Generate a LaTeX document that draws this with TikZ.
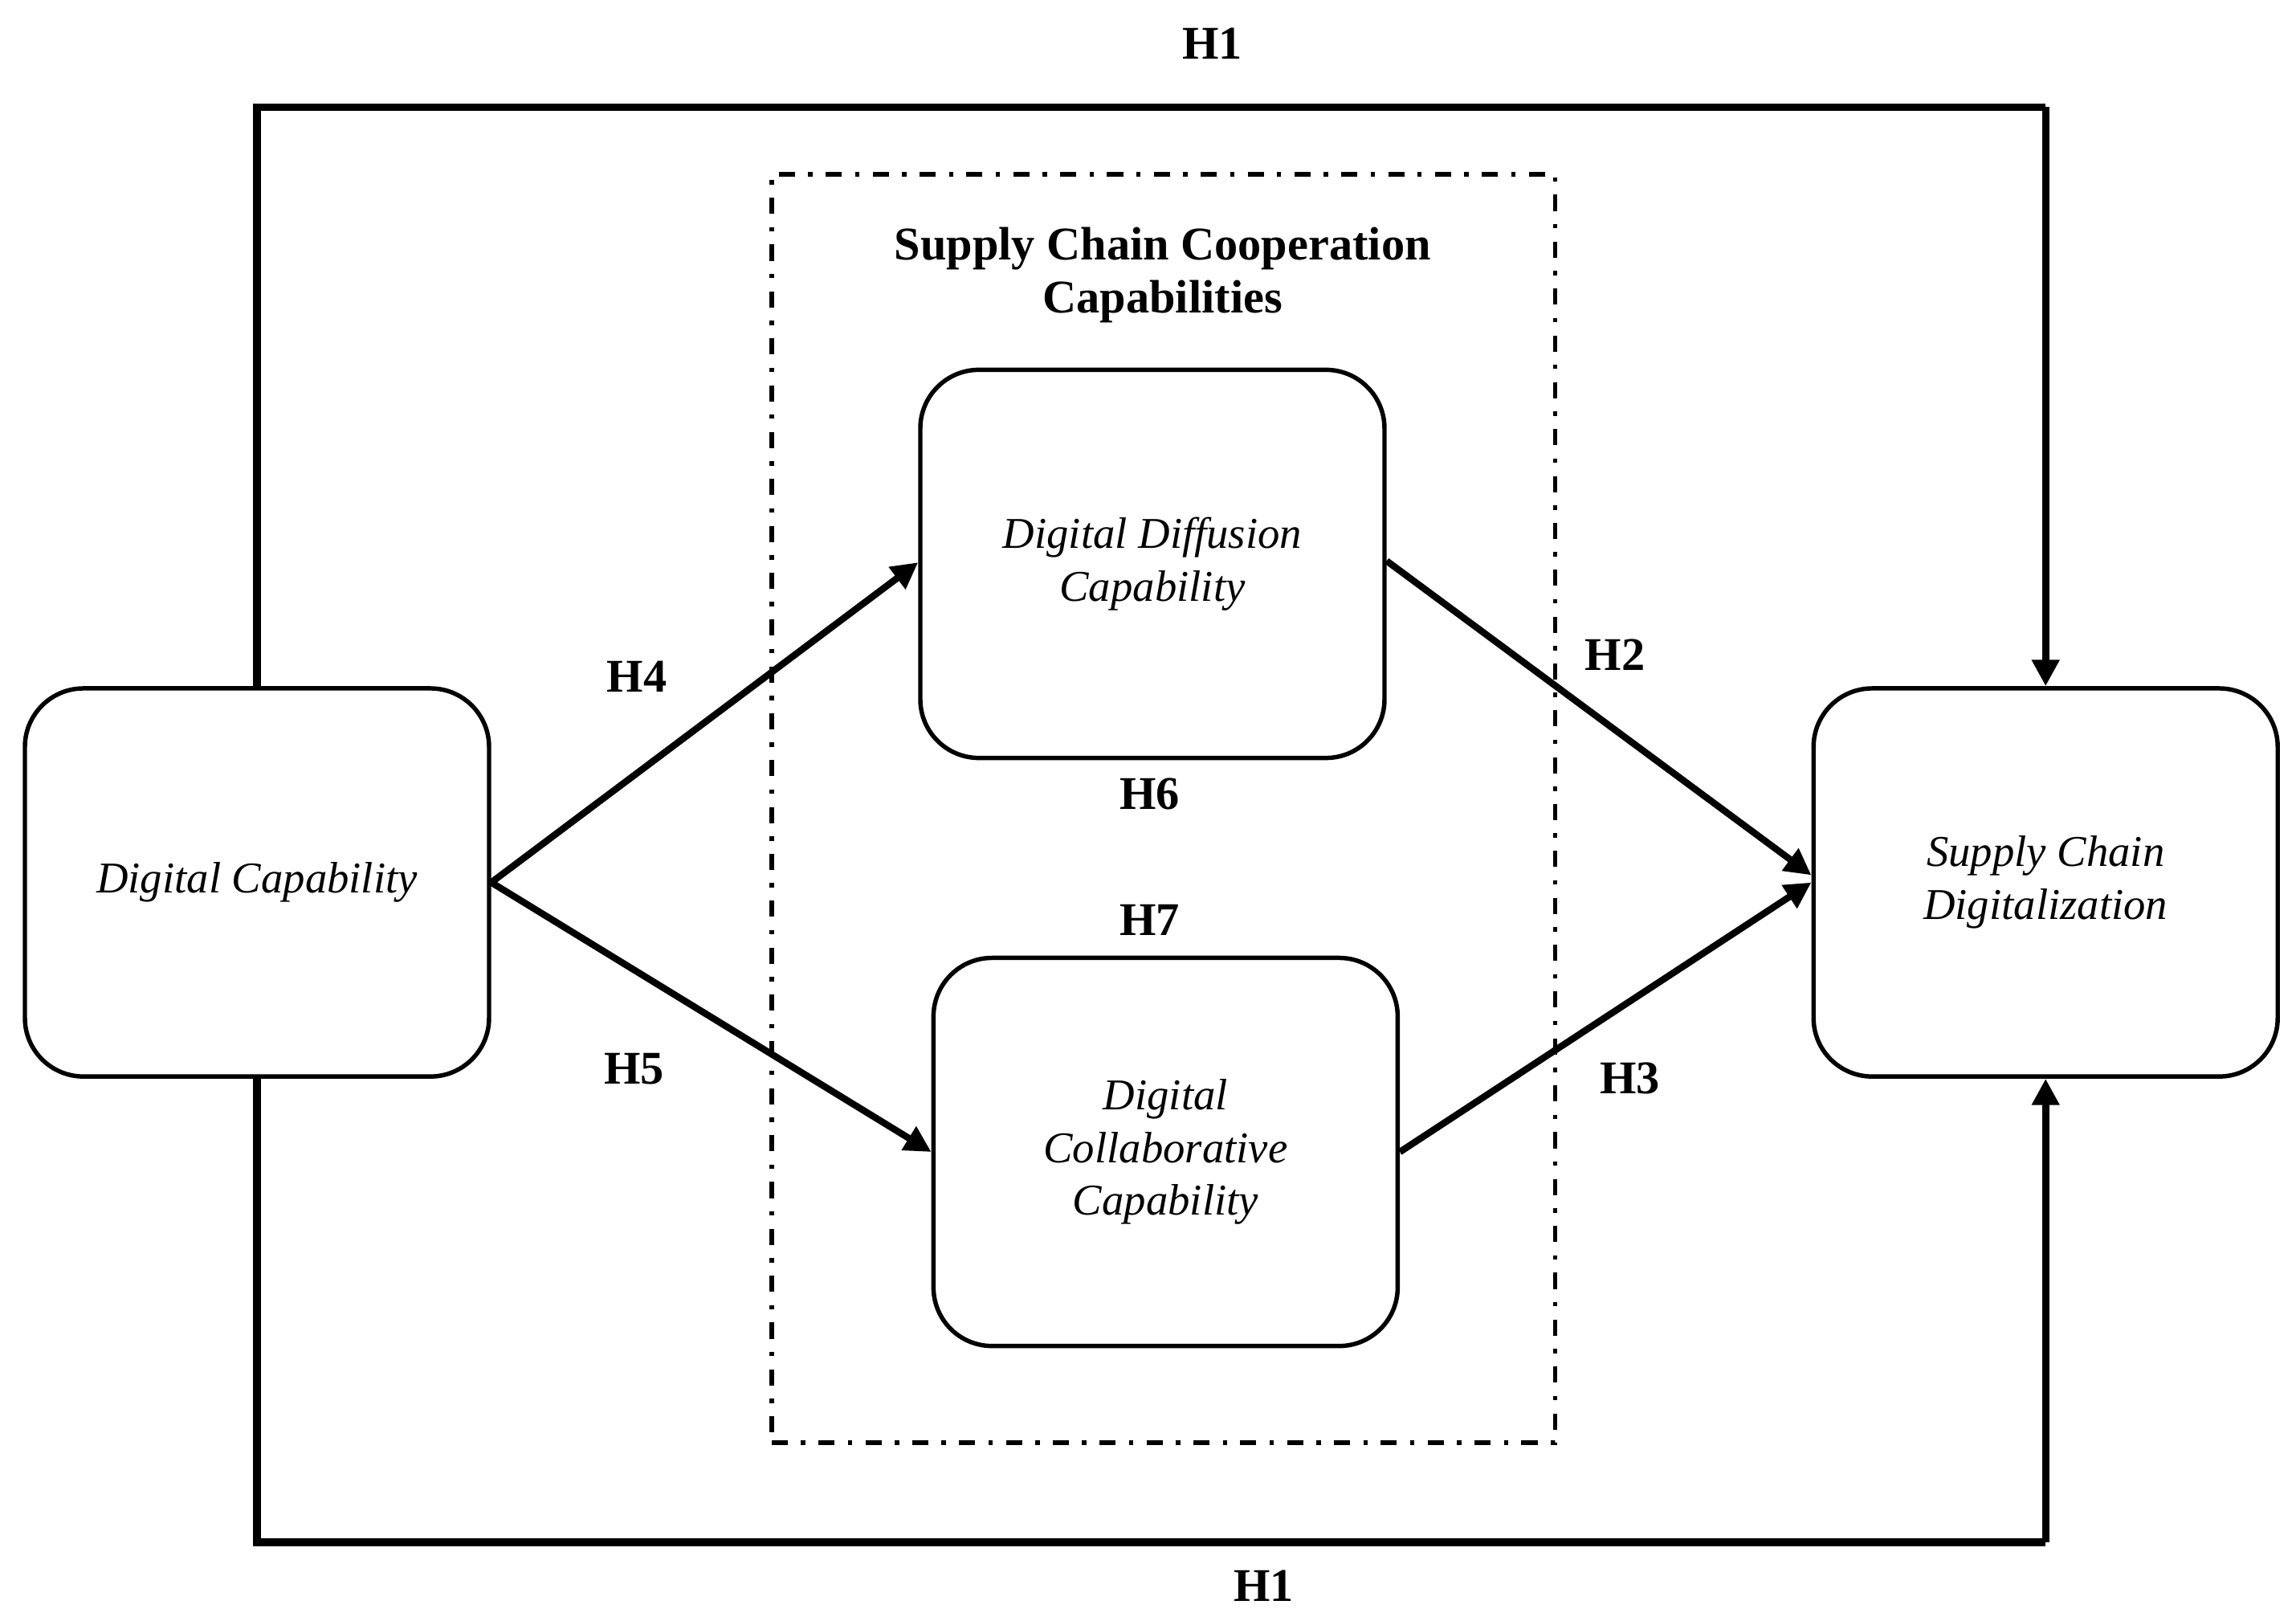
\documentclass[tikz,border=0pt]{standalone}
\usepackage{fontspec}
\setmainfont{Liberation Serif}
\usetikzlibrary{arrows.meta}
\begin{document}
\begin{tikzpicture}[x=0.5pt,y=-0.5pt,
  box/.style={draw,line width=1.5pt,rounded corners=20pt,minimum width=158.5pt,minimum height=132.5pt,inner sep=0pt,align=center,font=\fontsize{15}{18}\selectfont\itshape},
  arr/.style={line width=2.3pt,-{Triangle[length=9pt,width=9pt]}},
  outer/.style={line width=2.5pt},
  grp/.style={draw,line width=1.5pt,dash pattern=on 5.5pt off 4.5pt on 1.5pt off 4.5pt,minimum width=267.5pt,minimum height=433pt,inner sep=0pt},
  lbl/.style={font=\fontsize{16}{18}\selectfont\bfseries,inner sep=0pt,align=center}]
\useasboundingbox (0,0) rectangle (1568,1106.7);
\node[grp] (grp) at (794.5,552) {};
\node[lbl] (title) at (794,188) {Supply Chain Cooperation\\Capabilities};
\node[box] (dc) at (175.5,602.5) {\raisebox{-1pt}{Digital Capability}};
\node[box] (dd) at (787,385) {Digital Diffusion\\Capability};
\node[box] (dco) at (796,786.5) {Digital\\Collaborative\\Capability};
\node[box] (scd) at (1397,602.5) {\raisebox{-1.5pt}{Supply Chain}\\\raisebox{-1.5pt}{Digitalization}};
\coordinate (tl) at (175.5,73);
\coordinate (tr) at (1397,73);
\coordinate (bl) at (175.5,1053);
\coordinate (br) at (1397,1053);
\draw[outer] (dc.north) -- (tl) -- (tr);
\draw[outer,-{Triangle[length=9pt,width=9pt]}] (tr) -- (scd.north);
\draw[outer] (dc.south) -- (bl) -- (br);
\draw[outer,-{Triangle[length=9pt,width=9pt]}] (br) -- (scd.south);
\draw[arr] (dc.east) -- ([yshift=0.5pt]dd.west);
\draw[arr] (dc.east) -- (dco.west);
\draw[arr] ([yshift=1pt]dd.east) -- ([yshift=2.5pt]scd.west);
\draw[arr] (dco.east) -- (scd.west);
\node[lbl] (h1a) at (828,30) {H1};
\node[lbl] (h1b) at (863,1083) {H1};
\node[lbl] (h4) at (435,462) {H4};
\node[lbl] (h5) at (433,730) {H5};
\node[lbl] (h2) at (1103,447) {H2};
\node[lbl] (h3) at (1113,736) {H3};
\node[lbl] (h6) at (785,542) {H6};
\node[lbl] (h7) at (785,628) {H7};
\end{tikzpicture}
\end{document}
